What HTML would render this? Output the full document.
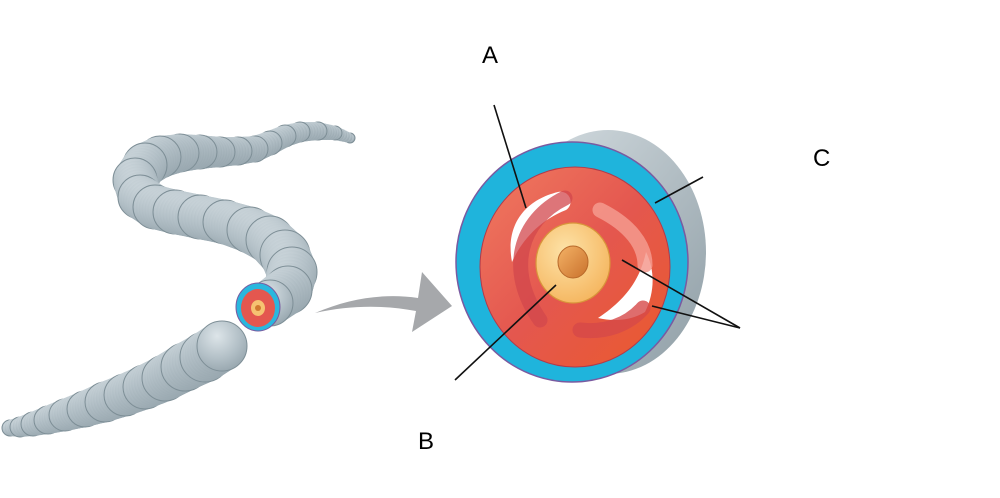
<!DOCTYPE html>
<html><head><style>html,body{margin:0;padding:0;background:#fff}</style></head>
<body>
<svg id="s" width="1000" height="493" viewBox="0 0 1000 493" xmlns="http://www.w3.org/2000/svg" font-family="Liberation Sans, sans-serif">
<defs>
<radialGradient id="wg" cx="0.4" cy="0.3" r="0.75">
<stop offset="0" stop-color="#dde5e9"/><stop offset="0.6" stop-color="#b3c0c7"/><stop offset="1" stop-color="#96a5ad"/></radialGradient>
<linearGradient id="bk" x1="0" y1="0" x2="1" y2="1"><stop offset="0" stop-color="#d7dfe3"/><stop offset="1" stop-color="#8e9da5"/></linearGradient>
<linearGradient id="rd" x1="0" y1="0" x2="1" y2="1"><stop offset="0" stop-color="#f07a60"/><stop offset="0.5" stop-color="#e4574f"/><stop offset="1" stop-color="#ea5a2c"/></linearGradient>
<radialGradient id="gd" cx="0.4" cy="0.35" r="0.7"><stop offset="0" stop-color="#fde3a8"/><stop offset="1" stop-color="#f5b55e"/></radialGradient>
<linearGradient id="cr" x1="0" y1="0" x2="1" y2="1"><stop offset="0" stop-color="#f4b266"/><stop offset="1" stop-color="#c9712c"/></linearGradient>
</defs>
<g id="worm"></g>
<!-- small cross section -->
<ellipse cx="258" cy="307" rx="22" ry="24" fill="#29b7de" stroke="#7a5aa0" stroke-width="1"/>
<ellipse cx="258" cy="308" rx="17" ry="19" fill="#e4574f"/>
<ellipse cx="258" cy="308" rx="7" ry="8" fill="#f6c271"/>
<circle cx="258" cy="308" r="3" fill="#d07a30"/>
<!-- arrow -->
<path d="M315,313 C350,298 385,293 418,298 L422,272 L452,306 L412,332 L416,311 C385,305 350,305 315,313 Z" fill="#a6a8ab"/>
<!-- big cross section -->
<ellipse cx="608" cy="252" rx="98" ry="122" fill="url(#bk)"/>
<ellipse cx="572" cy="262" rx="116" ry="120" fill="#1fb4dc" stroke="#7a5aa0" stroke-width="1.5"/>
<ellipse cx="575" cy="267" rx="95" ry="100" fill="url(#rd)" stroke="#b23a4a" stroke-width="1"/>
<path d="M558,192 C525,200 505,225 512,262 C522,240 540,220 566,210 C575,204 570,190 558,192 Z" fill="#fff"/>
<path d="M646,252 C640,280 625,300 598,318 C615,322 632,320 645,312 C655,292 655,270 646,252 Z" fill="#fff"/>
<path d="M565,198 C520,220 505,270 540,320" fill="none" stroke="#d2474c" stroke-width="15" stroke-linecap="round" opacity="0.75"/>
<path d="M600,210 C630,225 645,245 645,265" fill="none" stroke="#f59a8e" stroke-width="15" stroke-linecap="round" opacity="0.85"/>
<path d="M580,330 C605,333 628,325 643,308" fill="none" stroke="#d64848" stroke-width="15" stroke-linecap="round" opacity="0.8"/>
<ellipse cx="573" cy="263" rx="37" ry="40" fill="url(#gd)" stroke="#d8953a" stroke-width="1.2"/>
<ellipse cx="573" cy="262" rx="15" ry="16" fill="url(#cr)" stroke="#b8692a" stroke-width="1"/>
<!-- leader lines -->
<g stroke="#111" stroke-width="1.6">
<line x1="494" y1="105" x2="526" y2="208"/>
<line x1="703" y1="177" x2="655" y2="203"/>
<line x1="455" y1="380" x2="556" y2="285"/>
<line x1="740" y1="328" x2="622" y2="260"/>
<line x1="740" y1="328" x2="652" y2="306"/>
</g>
<g font-size="24" fill="#000">
<text x="482" y="63">A</text>
<text x="813" y="166">C</text>
<text x="418" y="449">B</text>
</g>
</svg>
<script>
(function(){
var up=[[350,138,5],[335,133,7],[318,131,9],[300,132,10],[285,136,11],[270,143,12],[255,149,13],[238,151,14],[220,152,15],[200,152,17],[180,153,19],[160,157,21],[145,165,22],[135,180,22],[140,197,22],[155,207,22],[175,212,22],[200,217,22],[225,222,22],[250,230,23],[270,240,24],[285,255,25],[292,272,25],[288,290,24],[270,303,23]];
var lo=[[10,428,8],[20,427,10],[33,424,12],[48,420,14],[65,415,16],[85,409,18],[105,402,20],[125,395,21],[145,387,22],[165,378,23],[185,367,24],[205,357,25],[222,346,25]];
var g=document.getElementById('worm'),ns='http://www.w3.org/2000/svg';
function dense(p){var out=[];for(var i=0;i<p.length-1;i++){var a=p[i],b=p[i+1];var d=Math.hypot(b[0]-a[0],b[1]-a[1]);var n=Math.max(1,Math.round(d/3));for(var k=0;k<n;k++){var t=k/n;out.push([a[0]+(b[0]-a[0])*t,a[1]+(b[1]-a[1])*t,a[2]+(b[2]-a[2])*t,(k==0)]);}}var l=p[p.length-1];out.push([l[0],l[1],l[2],true]);return out;}
function draw(p){var q=dense(p);for(var i=0;i<q.length;i++){var a=q[i];var c=document.createElementNS(ns,'circle');c.setAttribute('cx',a[0]);c.setAttribute('cy',a[1]);c.setAttribute('r',a[2]);c.setAttribute('fill','url(#wg)');c.setAttribute('stroke',a[3]?'#7d8e96':'none');c.setAttribute('stroke-width','1');g.appendChild(c);}}
draw(up);draw(lo);
})();
</script>
</body></html>
